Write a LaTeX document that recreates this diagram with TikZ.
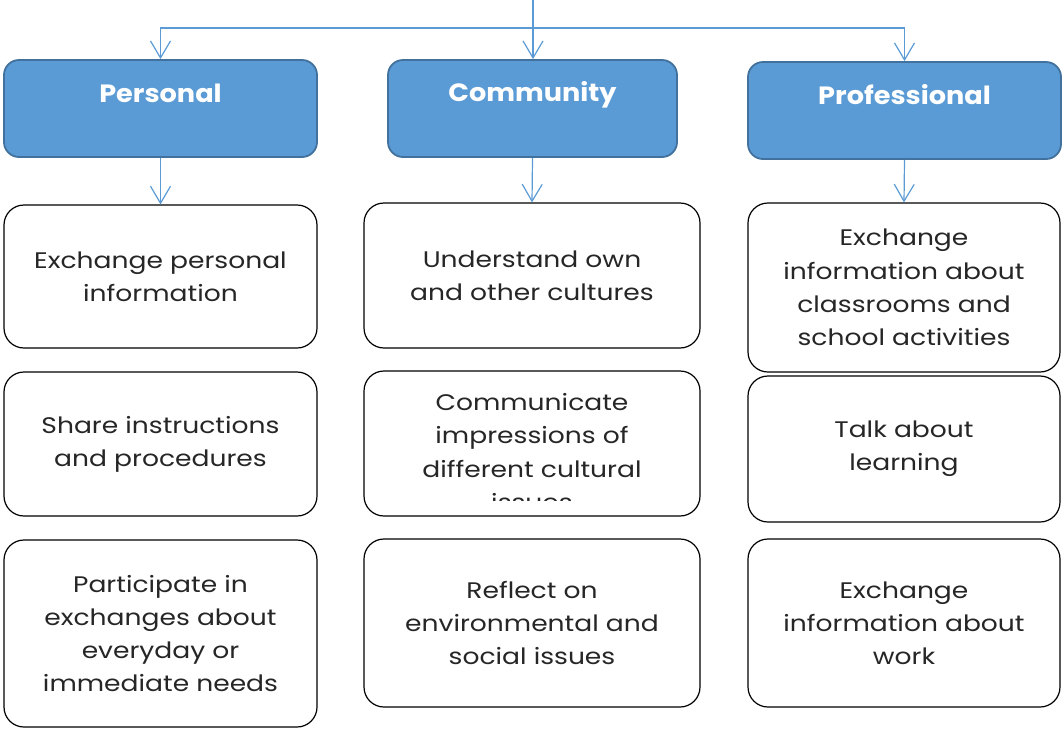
\documentclass[tikz,border=0pt]{standalone}
\usepackage{fontspec}
\setmainfont{Poppins}
\newfontfamily\bodyfont[FakeStretch=1.18]{Poppins}
\newfontfamily\hdrfont[FakeStretch=1.085]{Poppins}
\usetikzlibrary{arrows.meta}
\definecolor{hdrfill}{HTML}{5B9BD5}
\definecolor{hdrline}{HTML}{41719C}
\definecolor{connc}{HTML}{5B9BD5}
\definecolor{txtc}{HTML}{262626}
\tikzset{
  hdr/.style={draw=hdrline, fill=hdrfill, line width=1.8pt, rounded corners=15pt, inner sep=0pt},
  hdrtxt/.style={text=white, font=\hdrfont\fontsize{25}{28}\selectfont\bfseries, inner sep=0pt, anchor=base},
  cbox/.style={draw=black, line width=1.2pt, rounded corners=20pt, fill=white, inner sep=0pt,
    align=center, text=txtc, font=\bodyfont\fontsize{22.5}{33.2}\selectfont},
  ctxt/.style={align=center, text=txtc, font=\bodyfont\fontsize{22.5}{33.2}\selectfont, inner sep=0pt},
  conn/.style={draw=connc, line width=1.2pt},
  arr/.style={conn, -{Straight Barb[length=17pt,width=20pt,line width=1.2pt]}}
}
\begin{document}
\begin{tikzpicture}[x=1pt,y=-1pt]
\useasboundingbox (0,0) rectangle (1062,729);
% headers
\node[hdr, minimum width=313pt, minimum height=97pt] (P) at (160.5,108.5) {};
\node[hdr, minimum width=289pt, minimum height=97pt] (C) at (532.5,108.5) {};
\node[hdr, minimum width=313pt, minimum height=97pt] (R) at (904.5,110.5) {};
\node[hdrtxt] (Pt) at (160.5,102.5) {Personal};
\node[hdrtxt] (Ct) at (532.5,101.5) {Community};
\node[hdrtxt] (Rt) at (904.5,104) {Professional};
% column 1
\node[cbox, minimum width=313pt, minimum height=143pt] (p1) at (160.5,276.5) {Exchange personal\\information};
\node[cbox, minimum width=313pt, minimum height=144pt] (p2) at (160.5,444) {Share instructions\\and procedures};
\node[cbox, minimum width=313pt, minimum height=187pt] (p3) at (160.5,633.5) {Participate in\\exchanges about\\everyday or\\immediate needs};
% column 2
\node[cbox, minimum width=336pt, minimum height=145pt] (c1) at (532,275.5) {Understand own\\and other cultures};
\node[cbox, minimum width=336pt, minimum height=145pt] (c2) at (532,443.5) {};
\begin{scope}
  \clip (370,380) rectangle (694,500.5);
  \node[ctxt] (c2t) at (532,452) {Communicate\\impressions of\\different cultural\\issues};
\end{scope}
\node[cbox, minimum width=336pt, minimum height=168pt] (c3) at (532,623) {Reflect on\\environmental and\\social issues};
% column 3
\node[cbox, minimum width=312pt, minimum height=169pt] (r1) at (904,287.5) {Exchange\\information about\\classrooms and\\school activities};
\node[cbox, minimum width=312pt, minimum height=146pt] (r2) at (904,449) {Talk about\\learning};
\node[cbox, minimum width=312pt, minimum height=168pt] (r3) at (904,623) {Exchange\\information about\\work};
% connectors
\coordinate (top) at (533,0);
\coordinate (hub) at (533,28);
\draw[conn] (top) -- (hub);
\draw[arr] (hub) -| (P.north);
\draw[arr] (hub) -- (C.north -| hub);
\draw[arr] (hub) -| (R.north);
\draw[arr] (P.south) -- (p1.north);
\draw[arr] (C.south) -- (c1.north);
\draw[arr] (R.south) -- (r1.north);
\end{tikzpicture}
\end{document}
